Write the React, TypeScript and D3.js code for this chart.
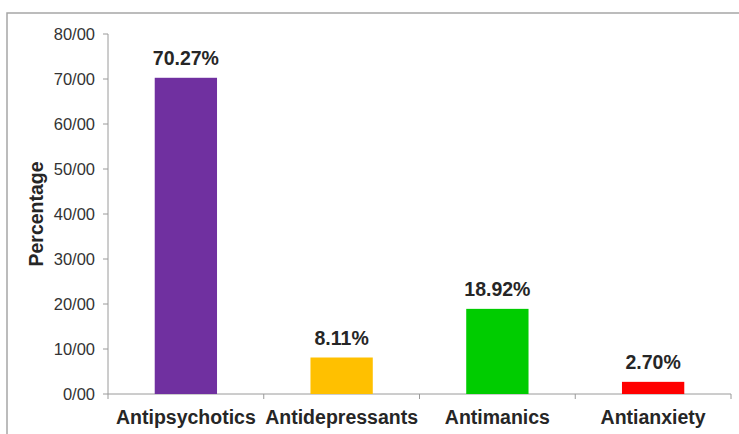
import React, { useEffect, useRef } from 'react';
import * as d3 from 'd3';

const categories = ['Antipsychotics', 'Antidepressants', 'Antimanics', 'Antianxiety'];
const values = [70.27, 8.11, 18.92, 2.7];
const valueLabels = ['70.27%', '8.11%', '18.92%', '2.70%'];
const barColors = ['#7030A0', '#FFC000', '#00CC00', '#FF0000'];
const yTicks = [0, 10, 20, 30, 40, 50, 60, 70, 80];
const yTickLabels = ['0/00', '10/00', '20/00', '30/00', '40/00', '50/00', '60/00', '70/00', '80/00'];

const WIDTH = 739;
const HEIGHT = 434;
const MARGIN = { top: 34, right: 8, bottom: 40, left: 108 };

const App: React.FC = () => {
  const svgRef = useRef<SVGSVGElement>(null);

  useEffect(() => {
    if (!svgRef.current) return;
    const svg = d3.select(svgRef.current);
    svg.selectAll('*').remove();

    const font = '"Liberation Sans", Arial, sans-serif';

    // chart frame
    svg.append('rect').attr('width', WIDTH).attr('height', HEIGHT).attr('fill', '#fff');
    svg.append('path')
      .attr('d', `M7,${HEIGHT + 5} L7,13 L${WIDTH + 5},13`)
      .attr('fill', 'none')
      .attr('stroke', '#a6a6a6')
      .attr('stroke-width', 1.5);

    const x0 = MARGIN.left;
    const x1 = WIDTH - MARGIN.right;
    const yBase = HEIGHT - MARGIN.bottom;

    const x = d3.scaleBand<string>().domain(categories).range([x0, x1]).paddingInner(0.6).paddingOuter(0.3);
    const y = d3.scaleLinear().domain([0, 80]).range([yBase, MARGIN.top]);
    const step = (x1 - x0) / categories.length;

    const g = svg.append('g');

    // y axis
    g.append('line')
      .attr('x1', x0).attr('x2', x0)
      .attr('y1', y(0)).attr('y2', y(80))
      .attr('stroke', '#9a9a9a');
    yTicks.forEach((t, i) => {
      g.append('line')
        .attr('x1', x0 - 5).attr('x2', x0)
        .attr('y1', y(t)).attr('y2', y(t))
        .attr('stroke', '#9a9a9a');
      g.append('text')
        .attr('x', 95)
        .attr('y', y(t))
        .attr('dy', '0.35em')
        .attr('text-anchor', 'end')
        .attr('fill', '#333')
        .style('font-family', font)
        .style('font-size', '16.5px')
        .text(yTickLabels[i]);
    });

    // x axis
    g.append('line')
      .attr('x1', x0).attr('x2', x1)
      .attr('y1', yBase).attr('y2', yBase)
      .attr('stroke', '#9a9a9a');
    for (let i = 0; i <= categories.length; i++) {
      const xt = x0 + i * step;
      g.append('line')
        .attr('x1', xt).attr('x2', xt)
        .attr('y1', yBase).attr('y2', yBase + 5)
        .attr('stroke', '#9a9a9a');
    }

    // bars + labels
    categories.forEach((c, i) => {
      const cx = x(c)! + x.bandwidth() / 2;
      g.append('rect')
        .attr('x', x(c)!)
        .attr('y', y(values[i]))
        .attr('width', x.bandwidth())
        .attr('height', yBase - y(values[i]))
        .attr('fill', barColors[i]);
      g.append('text')
        .attr('x', cx)
        .attr('y', y(values[i]) - 13)
        .attr('text-anchor', 'middle')
        .attr('fill', '#262626')
        .style('font-family', font)
        .style('font-size', '19.5px')
        .style('font-weight', 'bold')
        .text(valueLabels[i]);
      g.append('text')
        .attr('x', cx)
        .attr('y', 424)
        .attr('text-anchor', 'middle')
        .attr('fill', '#262626')
        .style('font-family', font)
        .style('font-size', '19.5px')
        .style('font-weight', 'bold')
        .text(c);
    });

    // y label
    g.append('text')
      .attr('transform', `translate(43, 214) rotate(-90)`)
      .attr('text-anchor', 'middle')
      .attr('fill', '#262626')
      .style('font-family', font)
      .style('font-size', '19.5px')
      .style('font-weight', 'bold')
      .text('Percentage');
  }, []);

  return (
    <svg
      ref={svgRef}
      width={WIDTH}
      height={HEIGHT}
      style={{ position: 'absolute', left: 0, top: 0, display: 'block' }}
    />
  );
};

export default App;
